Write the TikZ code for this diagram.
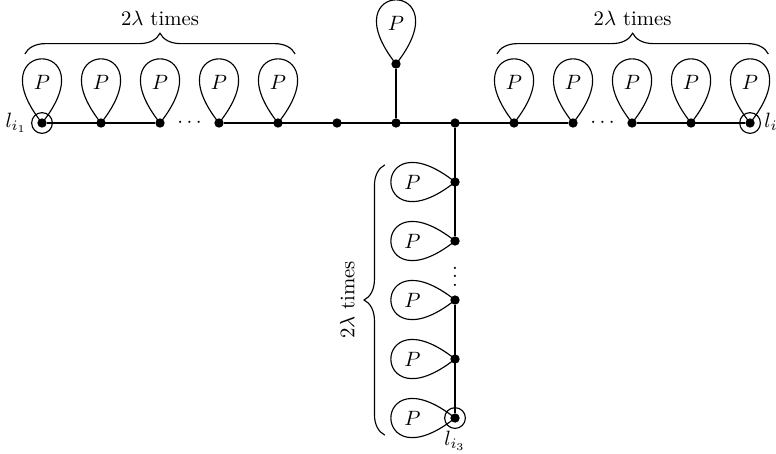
\documentclass[tikz,border=0pt]{standalone}
\usetikzlibrary{positioning,decorations.pathreplacing}
\tikzset{
  vtx/.style={circle,fill,inner sep=0pt,minimum size=4.5pt},
  endring/.style={circle,draw,inner sep=0pt,minimum size=10pt},
  bracetimes/.style={decorate,decoration={brace,amplitude=10pt}},
}
\begin{document}
\begin{tikzpicture}[line width=0.55pt]
\useasboundingbox (-0.712,-5.593) rectangle (12.44,2.085);
%% vertices
\foreach \x in {0,1,...,12}{
\node[vtx] (h\x) at (\x,0) {};
}
\node[vtx] (top) at (6,1) {};
\foreach \y in {1,...,5}{
\node[vtx] (v\y) at (7,-\y) {};
}
%% edges
\draw (h0) -- (h2);
\draw (h3) -- (h9);
\draw (h10) -- (h12);
\draw (h6) -- (top);
\draw (h7) -- (v2);
\draw (v3) -- (v5);
\node (dotsL) at (2.5,0) {$\cdots$};
\node (dotsR) at (9.5,0) {$\cdots$};
\node (dotsV) at (7,-2.5) {$\vdots$};
%% loops
\foreach \n in {h0,h1,h2,h3,h4,top,h8,h9,h10,h11,h12}{
\draw (\n.center) .. controls +(-1.15,1.45) and +(1.15,1.45) .. (\n.center);
\node (P\n) at ([yshift=0.68cm]\n.center) {$P$};
}
\foreach \n in {v1,v2,v3,v4,v5}{
\draw (\n.center) .. controls +(-1.45,1.15) and +(-1.45,-1.15) .. (\n.center);
\node (P\n) at ([xshift=-0.72cm]\n.center) {$P$};
}
% ends
\node[endring] (e1) at (h0) {};
\node[endring] (e2) at (h12) {};
\node[endring] (e3) at (v5) {};
\node[left=-1.5pt of e1] (l1) {$l_{i_1}$};
\node[right=-2pt of e2] (l2) {$l_{i_2}$};
\node[below=-2.5pt of e3] (l3) {$l_{i_3}$};
% braces
\draw[bracetimes] (-0.29,1.17) -- (4.29,1.17) node[midway,above=10pt] (bL) {$2\lambda$ times};
\draw[bracetimes] (7.71,1.17) -- (12.31,1.17) node[midway,above=10pt] (bR) {$2\lambda$ times};
\draw[bracetimes] (5.81,-5.29) -- (5.81,-0.71) node[midway,above=11pt,sloped] (bV) {$2\lambda$ times};
\end{tikzpicture}
\end{document}
